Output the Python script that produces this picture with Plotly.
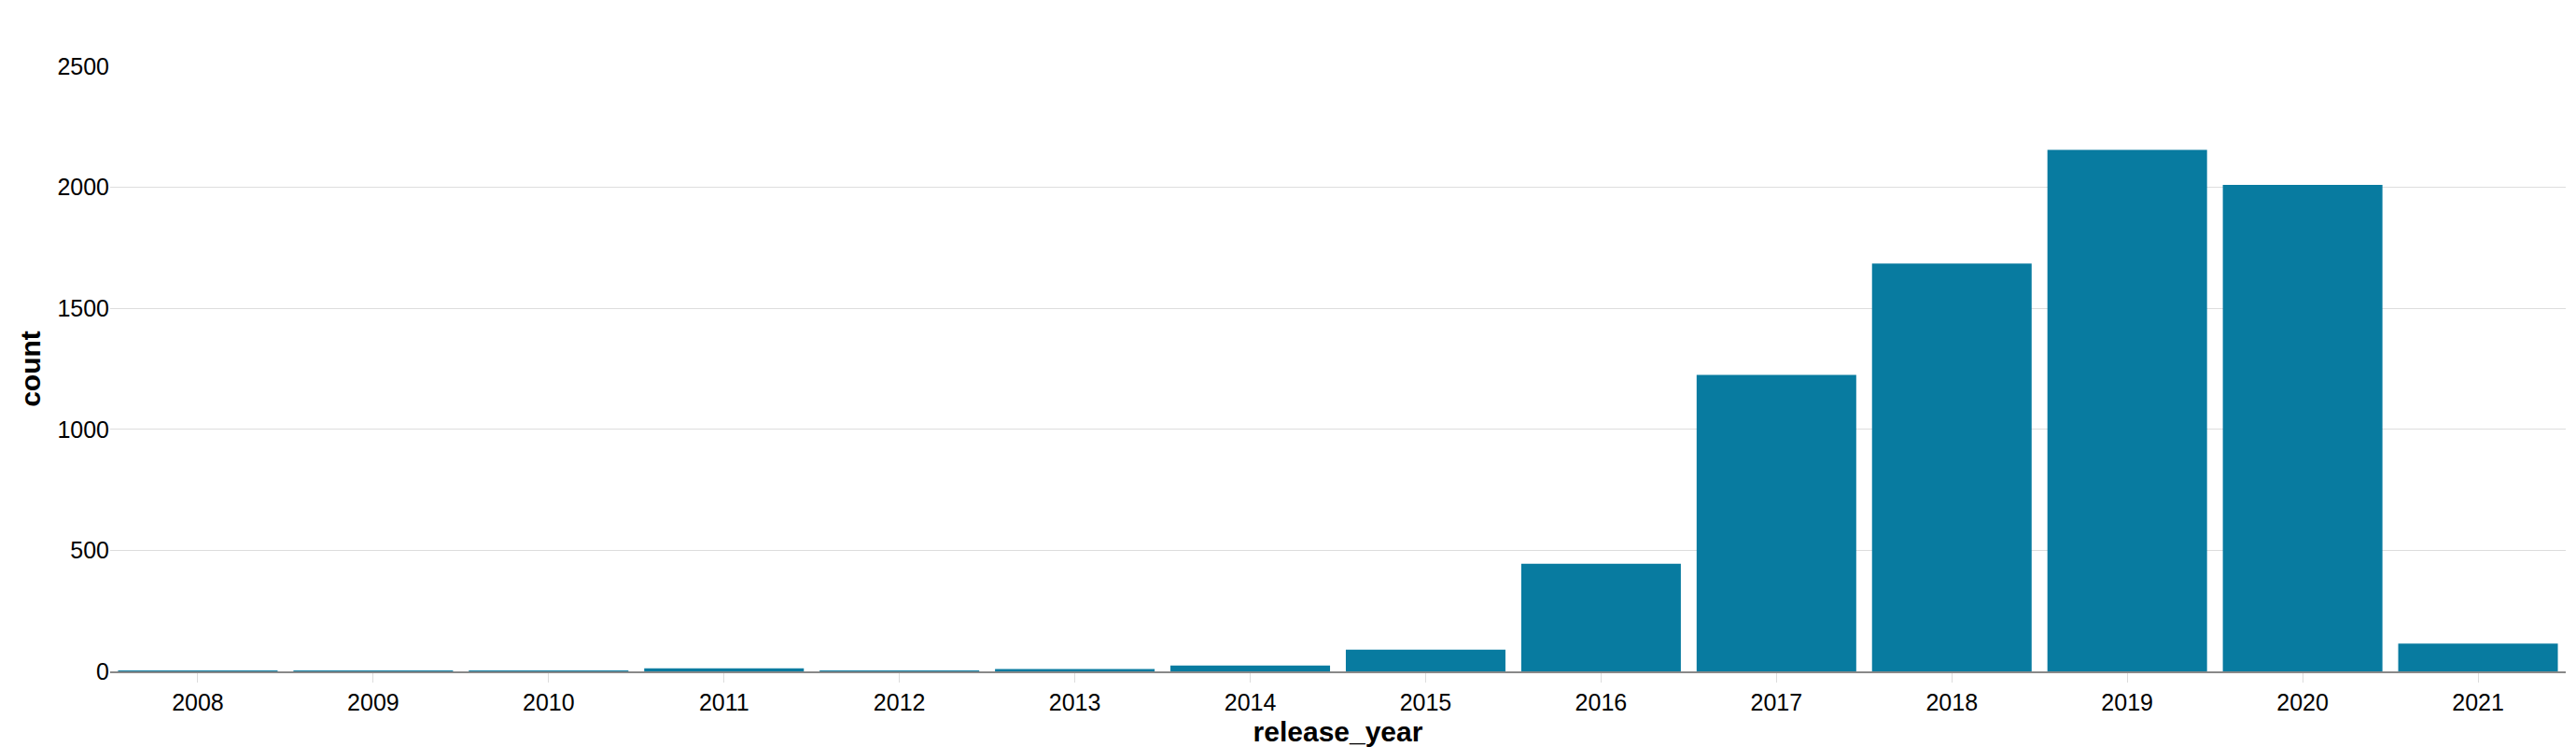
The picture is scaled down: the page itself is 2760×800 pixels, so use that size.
import plotly.graph_objects as go

# Datos
years = ["2008", "2009", "2010", "2011", "2012", "2013", "2014",
         "2015", "2016", "2017", "2018", "2019", "2020", "2021"]
counts = [2, 2, 1, 13, 3, 10, 24, 90, 445, 1225, 1685, 2155, 2010, 115]
y_ticks = [0, 500, 1000, 1500, 2000, 2500]

fig = go.Figure(go.Bar(x=years, y=counts, marker_color="#087ba0",
                       marker_line_width=0))

fig.update_layout(
    width=2760, height=800,
    plot_bgcolor="white", paper_bgcolor="white",
    font=dict(family="Liberation Sans", size=25, color="black"),
    margin=dict(l=110, r=19, t=63, b=89),
    bargap=0.09,
    showlegend=False,
)
fig.update_xaxes(
    title=dict(text="<b>release_year</b>", standoff=8),
    type="category", showline=True, linecolor="#888888", linewidth=2,
    ticks="outside", tickcolor="#dddddd", ticklen=10,
)
fig.update_yaxes(
    title=dict(text="<b>count</b>", standoff=8),
    range=[0, 2500], tickvals=y_ticks, gridcolor="#dddddd",
    zeroline=False,
)

fig.write_html("out.html")
